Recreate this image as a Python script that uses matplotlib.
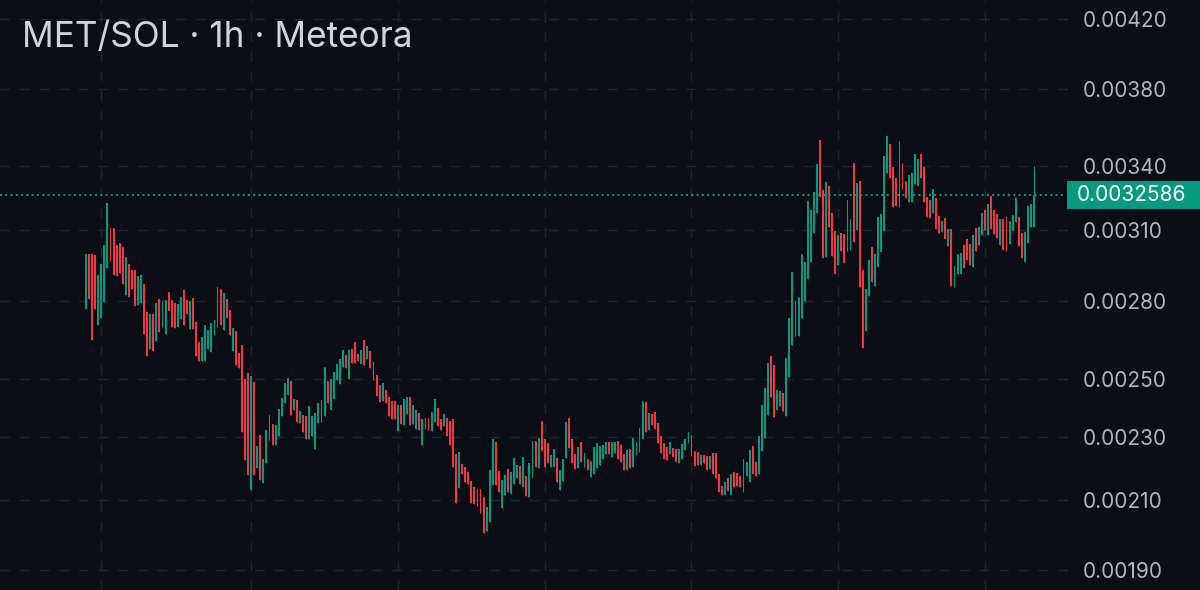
import matplotlib
matplotlib.use("Agg")
import matplotlib.pyplot as plt
import numpy as np
from matplotlib.patches import Rectangle
from matplotlib.ticker import FixedLocator, NullLocator, FixedFormatter

plt.rcParams['lines.scale_dashes'] = False
plt.rcParams['font.family'] = ['Inter', 'DejaVu Sans']

# ---------------- data (hourly candles, MET/SOL) ----------------
opens = [
0.002767,0.002994,0.002994,0.002990,0.002702,0.002733,0.002795,0.002937,0.003108,0.003111,
0.003032,0.003042,0.003027,0.002824,0.002952,0.002927,0.002927,0.002781,0.002791,0.002868,
0.002755,0.002613,0.002748,0.002641,0.002808,0.002698,0.002668,0.002834,0.002804,0.002791,
0.002698,0.002729,0.002845,0.002804,0.002688,0.002811,0.002716,0.002638,0.002569,0.002569,
0.002612,0.002599,0.002666,0.002696,0.002849,0.002683,0.002808,0.002763,0.002603,0.002679,
0.002597,0.002628,0.002503,0.002524,0.002132,0.002490,0.002201,0.002309,0.002155,0.002218,
0.002290,0.002346,0.002276,0.002306,0.002371,0.002417,0.002446,0.002496,0.002394,0.002426,
0.002349,0.002374,0.002371,0.002296,0.002306,0.002263,0.002349,0.002426,0.002373,0.002493,
0.002391,0.002432,0.002499,0.002484,0.002544,0.002591,0.002503,0.002613,0.002638,0.002595,
0.002558,0.002647,0.002573,0.002603,0.002564,0.002517,0.002479,0.002423,0.002461,0.002438,
0.002423,0.002423,0.002320,0.002409,0.002340,0.002377,0.002438,0.002343,0.002329,0.002382,
0.002274,0.002328,0.002365,0.002320,0.002351,0.002399,0.002360,0.002337,0.002365,0.002356,
0.002360,0.002247,0.002137,0.002212,0.002203,0.002188,0.002160,0.002142,0.002136,0.002136,
0.002111,0.002011,0.002037,0.002146,0.002285,0.002192,0.002078,0.002118,0.002198,0.002121,
0.002152,0.002168,0.002206,0.002141,0.002175,0.002111,0.002168,0.002287,0.002201,0.002356,
0.002296,0.002280,0.002203,0.002203,0.002233,0.002131,0.002160,0.002233,0.002365,0.002295,
0.002247,0.002201,0.002285,0.002204,0.002230,0.002172,0.002181,0.002201,0.002209,0.002228,
0.002244,0.002285,0.002235,0.002250,0.002287,0.002276,0.002244,0.002195,0.002263,0.002203,
0.002241,0.002252,0.002293,0.002419,0.002323,0.002380,0.002386,0.002349,0.002304,0.002280,
0.002267,0.002247,0.002265,0.002262,0.002215,0.002230,0.002258,0.002282,0.002309,0.002254,
0.002252,0.002209,0.002241,0.002238,0.002199,0.002250,0.002250,0.002181,0.002144,0.002117,
0.002170,0.002118,0.002187,0.002186,0.002175,0.002127,0.002175,0.002158,0.002271,0.002219,
0.002183,0.002254,0.002298,0.002374,0.002585,0.002554,0.002394,0.002405,0.002452,0.002373,
0.002509,0.002628,0.002797,0.002663,0.002733,0.002801,0.002889,0.002960,0.003089,0.003179,
0.003529,0.003284,0.002984,0.003303,0.003176,0.003096,0.002946,0.003086,0.003082,0.003008,
0.003013,0.003416,0.003101,0.003329,0.002928,0.002681,0.002818,0.003024,0.002861,0.002939,
0.003003,0.003098,0.003367,0.003508,0.003395,0.003340,0.003206,0.003413,0.003329,0.003227,
0.003230,0.003312,0.003301,0.003459,0.003393,0.003250,0.003238,0.003179,0.003248,0.003164,
0.003093,0.003153,0.003030,0.003104,0.002858,0.002911,0.002911,0.003035,0.003060,0.003039,
0.002939,0.003111,0.003035,0.003079,0.003191,0.003079,0.003256,0.003191,0.003173,0.003032,
0.003149,0.003158,0.003039,0.003098,0.003138,0.003158,0.003086,0.002960,0.003042,0.003112,
0.003115]

highs = [
0.002994,0.002994,0.002994,0.002990,0.002907,0.002953,0.003032,0.003222,0.003108,0.003111,
0.003032,0.003042,0.003027,0.002980,0.002952,0.002927,0.002927,0.002900,0.002904,0.002868,
0.002755,0.002748,0.002748,0.002791,0.002808,0.002797,0.002804,0.002834,0.002804,0.002791,
0.002788,0.002815,0.002845,0.002804,0.002800,0.002811,0.002716,0.002638,0.002657,0.002704,
0.002685,0.002713,0.002724,0.002856,0.002849,0.002830,0.002808,0.002763,0.002692,0.002679,
0.002597,0.002628,0.002503,0.002524,0.002511,0.002490,0.002271,0.002309,0.002230,0.002326,
0.002374,0.002346,0.002340,0.002396,0.002434,0.002488,0.002506,0.002496,0.002432,0.002426,
0.002390,0.002374,0.002371,0.002405,0.002373,0.002382,0.002417,0.002426,0.002544,0.002493,
0.002503,0.002527,0.002558,0.002576,0.002609,0.002591,0.002607,0.002613,0.002638,0.002595,
0.002607,0.002647,0.002624,0.002603,0.002564,0.002517,0.002479,0.002488,0.002461,0.002438,
0.002423,0.002423,0.002411,0.002409,0.002429,0.002436,0.002438,0.002411,0.002394,0.002382,
0.002360,0.002365,0.002365,0.002386,0.002430,0.002399,0.002360,0.002377,0.002365,0.002356,
0.002360,0.002247,0.002252,0.002212,0.002203,0.002188,0.002160,0.002142,0.002136,0.002136,
0.002111,0.002080,0.002195,0.002296,0.002285,0.002192,0.002163,0.002178,0.002198,0.002187,
0.002233,0.002209,0.002206,0.002237,0.002175,0.002217,0.002287,0.002287,0.002298,0.002356,
0.002296,0.002280,0.002241,0.002262,0.002233,0.002195,0.002230,0.002352,0.002365,0.002295,
0.002247,0.002267,0.002285,0.002250,0.002230,0.002222,0.002267,0.002282,0.002271,0.002276,
0.002284,0.002285,0.002285,0.002285,0.002287,0.002276,0.002244,0.002258,0.002263,0.002298,
0.002285,0.002331,0.002423,0.002419,0.002382,0.002380,0.002386,0.002349,0.002304,0.002280,
0.002267,0.002285,0.002265,0.002262,0.002262,0.002279,0.002293,0.002317,0.002309,0.002254,
0.002252,0.002241,0.002241,0.002238,0.002238,0.002250,0.002250,0.002181,0.002144,0.002158,
0.002170,0.002183,0.002187,0.002186,0.002175,0.002228,0.002219,0.002257,0.002271,0.002219,
0.002304,0.002411,0.002470,0.002561,0.002585,0.002554,0.002461,0.002460,0.002452,0.002579,
0.002733,0.002917,0.002797,0.002815,0.002994,0.002960,0.003234,0.003191,0.003273,0.003408,
0.003529,0.003284,0.003321,0.003303,0.003176,0.003096,0.003079,0.003086,0.003082,0.003238,
0.003150,0.003416,0.003316,0.003329,0.002928,0.002848,0.002970,0.003024,0.002994,0.003161,
0.003171,0.003449,0.003549,0.003508,0.003395,0.003340,0.003526,0.003413,0.003329,0.003356,
0.003364,0.003457,0.003432,0.003459,0.003393,0.003250,0.003238,0.003289,0.003248,0.003164,
0.003142,0.003153,0.003104,0.003104,0.002942,0.002994,0.003001,0.003035,0.003060,0.003039,
0.003079,0.003111,0.003115,0.003176,0.003191,0.003217,0.003256,0.003191,0.003173,0.003149,
0.003149,0.003158,0.003141,0.003168,0.003245,0.003158,0.003086,0.003093,0.003209,0.003217,
0.003399]

lows = [
0.002767,0.002808,0.002645,0.002767,0.002702,0.002733,0.002795,0.002937,0.002967,0.002904,
0.002900,0.002916,0.002868,0.002824,0.002817,0.002848,0.002780,0.002781,0.002791,0.002668,
0.002585,0.002613,0.002603,0.002641,0.002676,0.002698,0.002668,0.002760,0.002696,0.002692,
0.002698,0.002729,0.002702,0.002748,0.002688,0.002688,0.002585,0.002569,0.002569,0.002569,
0.002612,0.002599,0.002666,0.002696,0.002704,0.002683,0.002731,0.002666,0.002603,0.002554,
0.002542,0.002318,0.002226,0.002177,0.002132,0.002177,0.002201,0.002164,0.002155,0.002218,
0.002290,0.002274,0.002276,0.002306,0.002371,0.002417,0.002446,0.002374,0.002394,0.002351,
0.002349,0.002318,0.002295,0.002296,0.002306,0.002263,0.002349,0.002351,0.002373,0.002415,
0.002391,0.002432,0.002499,0.002484,0.002544,0.002542,0.002503,0.002559,0.002559,0.002569,
0.002558,0.002554,0.002573,0.002542,0.002499,0.002441,0.002421,0.002423,0.002415,0.002371,
0.002363,0.002360,0.002320,0.002345,0.002340,0.002377,0.002340,0.002343,0.002329,0.002326,
0.002274,0.002328,0.002326,0.002320,0.002351,0.002337,0.002323,0.002337,0.002306,0.002276,
0.002204,0.002091,0.002137,0.002182,0.002158,0.002149,0.002091,0.002089,0.002084,0.002063,
0.002003,0.002011,0.002037,0.002146,0.002147,0.002127,0.002078,0.002118,0.002127,0.002121,
0.002152,0.002168,0.002152,0.002141,0.002113,0.002111,0.002168,0.002204,0.002201,0.002254,
0.002203,0.002215,0.002203,0.002203,0.002157,0.002131,0.002160,0.002233,0.002265,0.002215,
0.002199,0.002201,0.002221,0.002204,0.002195,0.002172,0.002181,0.002201,0.002209,0.002228,
0.002244,0.002244,0.002235,0.002250,0.002228,0.002221,0.002193,0.002195,0.002201,0.002203,
0.002241,0.002252,0.002293,0.002318,0.002323,0.002340,0.002328,0.002282,0.002250,0.002230,
0.002225,0.002247,0.002236,0.002219,0.002215,0.002230,0.002258,0.002282,0.002238,0.002206,
0.002209,0.002209,0.002215,0.002193,0.002199,0.002183,0.002168,0.002126,0.002117,0.002117,
0.002129,0.002118,0.002141,0.002144,0.002142,0.002127,0.002175,0.002158,0.002183,0.002175,
0.002183,0.002254,0.002298,0.002374,0.002436,0.002368,0.002394,0.002405,0.002390,0.002373,
0.002509,0.002628,0.002663,0.002663,0.002733,0.002801,0.002889,0.002960,0.003089,0.003179,
0.003250,0.002977,0.002984,0.003115,0.002987,0.002910,0.002946,0.003010,0.002958,0.003008,
0.003013,0.003046,0.003101,0.002854,0.002616,0.002681,0.002818,0.002876,0.002861,0.002939,
0.003003,0.003098,0.003367,0.003343,0.003203,0.003209,0.003206,0.003288,0.003245,0.003227,
0.003230,0.003312,0.003301,0.003340,0.003230,0.003161,0.003156,0.003179,0.003104,0.003086,
0.003093,0.003061,0.003030,0.002862,0.002858,0.002911,0.002911,0.002935,0.002970,0.002949,
0.002939,0.003008,0.003035,0.003079,0.003101,0.003079,0.003104,0.003083,0.003064,0.003032,
0.003013,0.003010,0.003039,0.003098,0.003138,0.003030,0.002977,0.002960,0.003042,0.003112,
0.003115]

closes = [
0.002994,0.002808,0.002645,0.002767,0.002907,0.002953,0.003032,0.003222,0.002967,0.002904,
0.002900,0.002916,0.002868,0.002980,0.002817,0.002848,0.002780,0.002900,0.002904,0.002668,
0.002585,0.002748,0.002603,0.002791,0.002676,0.002797,0.002804,0.002760,0.002696,0.002692,
0.002788,0.002815,0.002702,0.002748,0.002800,0.002688,0.002585,0.002569,0.002657,0.002704,
0.002685,0.002713,0.002724,0.002856,0.002704,0.002830,0.002731,0.002666,0.002692,0.002554,
0.002542,0.002318,0.002226,0.002177,0.002511,0.002177,0.002271,0.002164,0.002230,0.002326,
0.002374,0.002274,0.002340,0.002396,0.002434,0.002488,0.002506,0.002374,0.002432,0.002351,
0.002390,0.002318,0.002295,0.002405,0.002373,0.002382,0.002417,0.002351,0.002544,0.002415,
0.002503,0.002527,0.002558,0.002576,0.002609,0.002542,0.002607,0.002559,0.002559,0.002569,
0.002607,0.002554,0.002624,0.002542,0.002499,0.002441,0.002421,0.002488,0.002415,0.002371,
0.002363,0.002360,0.002411,0.002345,0.002429,0.002436,0.002340,0.002411,0.002394,0.002326,
0.002360,0.002365,0.002326,0.002386,0.002430,0.002337,0.002323,0.002377,0.002306,0.002276,
0.002204,0.002091,0.002252,0.002182,0.002158,0.002149,0.002091,0.002089,0.002084,0.002063,
0.002003,0.002080,0.002195,0.002296,0.002147,0.002127,0.002163,0.002178,0.002127,0.002187,
0.002233,0.002209,0.002152,0.002237,0.002113,0.002217,0.002287,0.002204,0.002298,0.002254,
0.002203,0.002215,0.002241,0.002262,0.002157,0.002195,0.002230,0.002352,0.002265,0.002215,
0.002199,0.002267,0.002221,0.002250,0.002195,0.002222,0.002267,0.002282,0.002271,0.002276,
0.002284,0.002244,0.002285,0.002285,0.002228,0.002221,0.002193,0.002258,0.002201,0.002298,
0.002285,0.002331,0.002423,0.002318,0.002382,0.002340,0.002328,0.002282,0.002250,0.002230,
0.002225,0.002285,0.002236,0.002219,0.002262,0.002279,0.002293,0.002317,0.002238,0.002206,
0.002209,0.002241,0.002215,0.002193,0.002238,0.002183,0.002168,0.002126,0.002117,0.002158,
0.002129,0.002183,0.002141,0.002144,0.002142,0.002228,0.002219,0.002257,0.002183,0.002175,
0.002304,0.002411,0.002470,0.002561,0.002436,0.002368,0.002461,0.002460,0.002390,0.002579,
0.002733,0.002917,0.002663,0.002815,0.002994,0.002960,0.003234,0.003191,0.003273,0.003408,
0.003250,0.002977,0.003321,0.003115,0.002987,0.002910,0.003079,0.003010,0.002958,0.003238,
0.003150,0.003046,0.003316,0.002854,0.002616,0.002848,0.002970,0.002876,0.002994,0.003161,
0.003171,0.003449,0.003549,0.003343,0.003203,0.003209,0.003526,0.003288,0.003245,0.003356,
0.003364,0.003457,0.003432,0.003340,0.003230,0.003161,0.003156,0.003289,0.003104,0.003086,
0.003142,0.003061,0.003104,0.002862,0.002942,0.002994,0.003001,0.002935,0.002970,0.002949,
0.003079,0.003008,0.003115,0.003176,0.003101,0.003217,0.003104,0.003083,0.003064,0.003149,
0.003013,0.003010,0.003141,0.003168,0.003245,0.003030,0.002977,0.003093,0.003209,0.003217,
0.0032586]

last_price = 0.0032586
price_ticks = [0.00190, 0.00210, 0.00230, 0.00250, 0.00280, 0.00310, 0.00340, 0.00380, 0.00420]
price_tick_labels = ["0.00190", "0.00210", "0.00230", "0.00250", "0.00280",
                     "0.00310", "0.00340", "0.00380", "0.00420"]
day_marks = [5, 54, 102, 150, 198, 246, 294]   # candle index of vertical grid lines
title = "MET/SOL · 1h · Meteora"

# ---------------- style ----------------
BG = "#0b0e14"
GRID = "#1f252e"
UP = "#089981"
DOWN = "#f23645"
TXT = "#b2b5be"
TITLE = "#d1d4dc"

W, H = 1200, 590
fig = plt.figure(figsize=(W / 100, H / 100), dpi=100, facecolor=BG)
ax_right_px = 1064
ax = fig.add_axes([0, 0, ax_right_px / W, 1])
ax.set_facecolor(BG)

o = np.array(opens); h = np.array(highs); l = np.array(lows); c = np.array(closes)
x = np.arange(len(o))
up = c >= o
cols = np.where(up, UP, DOWN)

ax.set_yscale("log")
ax.vlines(x, l, h, colors=cols, linewidth=0.8, zorder=3)
body_lo = np.minimum(o, c)
body_hi = np.maximum(o, c)
ax.bar(x, body_hi - body_lo, bottom=body_lo, width=0.6, color=cols, linewidth=0, zorder=4)

ax.axhline(last_price, color=UP, linewidth=1.5, linestyle=(0, (1.4, 2.4)), zorder=5)

ax.set_ylim(0.001846, 0.004318)
ax.set_xlim(-28.12, (ax_right_px - 86) / 3.058)

ax.yaxis.set_major_locator(FixedLocator(price_ticks))
ax.yaxis.set_major_formatter(FixedFormatter(price_tick_labels))
ax.yaxis.set_minor_locator(NullLocator())
ax.yaxis.tick_right()
ax.set_xticks(day_marks)
ax.set_xticklabels([])
ax.tick_params(axis="x", length=0)
ax.tick_params(axis="y", which="major", direction="out", length=2.5, width=1,
               color="#2a2f3a", pad=11, labelsize=15, labelcolor=TXT)
ax.grid(True, which="major", color=GRID, linewidth=1.0, linestyle=(0, (7.2, 6.9)), zorder=0)
for s in ax.spines.values():
    s.set_visible(False)

# last price tag
yfrac = ax.transData.transform((0, last_price))[1] / H
tag_h = 28 / H
fig.add_artist(Rectangle((1067 / W, yfrac - tag_h / 2), (W - 1067) / W, tag_h,
                         transform=fig.transFigure, facecolor=UP, edgecolor="none", zorder=6))
fig.text(1077 / W, yfrac, "0.0032586", color="white", fontsize=15, va="center", ha="left", zorder=7)

fig.text(22 / W, 1 - 47 / H, title, color=TITLE, fontsize=25.3, va="baseline", ha="left")

fig.savefig("out.png", dpi=100, facecolor=BG)
